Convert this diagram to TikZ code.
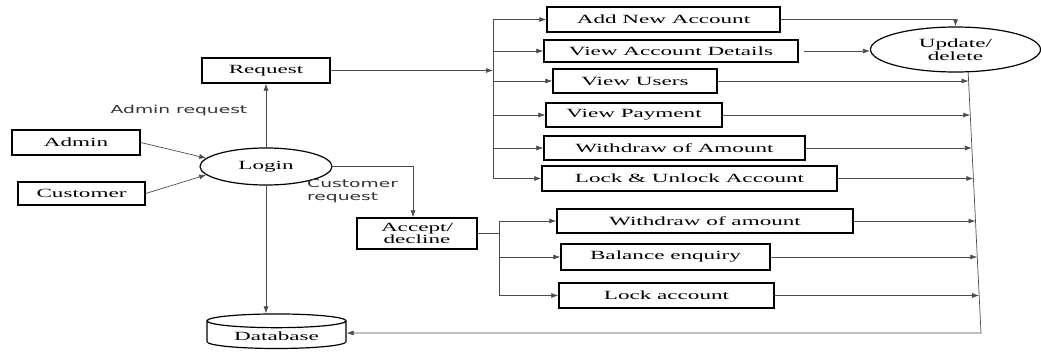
\documentclass[tikz,border=0pt]{standalone}
\usepackage{fontspec}
\newfontfamily\boxfont{Liberation Serif}[FakeStretch=1.85]
\newfontfamily\notefont{DejaVu Sans}[FakeStretch=1.7]
\usetikzlibrary{shapes.geometric,arrows.meta,calc}

\begin{document}
\begin{tikzpicture}[
  x=1pt, y=-1pt,
  box/.style={draw, line width=1.3pt, inner sep=1pt, align=center, font=\boxfont\fontsize{12.5}{12.5}\selectfont},
  bubble/.style={ellipse, draw, line width=1.2pt, inner sep=0pt, align=center, font=\boxfont\fontsize{12.5}{12.5}\selectfont},
  store/.style={cylinder, shape border rotate=90, draw, line width=1.2pt, aspect=0.15, font=\boxfont\fontsize{12.5}{12.5}\selectfont},
  note/.style={align=left, inner sep=0pt, font=\notefont\fontsize{11}{12.5}\selectfont, text=black!80},
  wire/.style={line width=0.7pt, draw=black!70},
  flow/.style={wire, -{Latex[length=7pt,width=5pt]}}
]
\useasboundingbox (0,0) rectangle (1041,356);
% users and login
\node[box, minimum width=128pt, minimum height=25pt] (admin) at (76,142.5) {Admin};
\node[box, minimum width=127pt, minimum height=23pt] (cust) at (81.5,193.5) {Customer};
\node[bubble, minimum width=132pt, minimum height=37pt] (login) at (266,166.5) {Login};
\node[box, minimum width=128pt, minimum height=25pt] (req) at (266,70.5) {Request};
\node[box, minimum width=120pt, minimum height=31pt] (accept) at (417,233.5) {Accept/\\decline};
\node[store, minimum width=139pt, minimum height=33pt] (db) at (276.5,336) {Database};
\node[note] (adminreq) at (179,110) {Admin request};
\node[note, anchor=west] (custreq) at (307,191) {Customer\\request};
% admin functions
\node[box, minimum width=233pt, minimum height=25pt] (add) at (663.5,19.5) {Add New Account};
\node[box, minimum width=254pt, minimum height=22pt] (details) at (671,51) {View Account Details};
\node[box, minimum width=164pt, minimum height=24pt] (users) at (635,81) {View Users};
\node[box, minimum width=176pt, minimum height=24pt] (payment) at (634,115) {View Payment};
\node[box, minimum width=261pt, minimum height=24pt] (withdraw) at (674.5,148) {Withdraw of Amount};
\node[box, minimum width=295pt, minimum height=25pt] (lock) at (689.5,178.5) {Lock \& Unlock Account};
% customer functions
\node[box, minimum width=296pt, minimum height=24pt] (wdamt) at (705,221) {Withdraw of amount};
\node[box, minimum width=209pt, minimum height=26pt] (balance) at (665.5,257) {Balance enquiry};
\node[box, minimum width=215pt, minimum height=25pt] (lockacc) at (666.5,295.5) {Lock account};
\node[bubble, minimum width=170pt, minimum height=45pt] (update) at (955.5,49.5) {Update/\\delete};
\coordinate (abus) at (493,100);
\coordinate (cbus) at (499,250);
\coordinate (ubot) at (981,333);
% connectors
\draw[flow] (admin.east) -- (login.172);
\draw[flow] (cust.east) -- (login.188);
\draw[flow] (login.north) -- (req.south);
\draw[flow] (login.east) -| ([xshift=-4pt]accept.north);
\draw[flow] (login.south) -- (login.south |- db.north);
\draw[flow] (req.east) -- (req.east -| abus);
\draw[wire] (add.west -| abus) -- (lock.west -| abus);
\foreach \b in {add,details,users,payment,withdraw,lock}
  \draw[flow] (\b.west -| abus) -- (\b.west);
\draw[wire] (accept.east) -- (accept.east -| cbus);
\draw[wire] (wdamt.west -| cbus) -- (lockacc.west -| cbus);
\foreach \b in {wdamt,balance,lockacc}
  \draw[flow] (\b.west -| cbus) -- (\b.west);
\draw[flow] (add.east) -| (update.north);
\draw[flow, shorten <=5pt] (details.east) -- (details.east -| update.west);
\draw[flow] (update.-61) -- (ubot) -- (ubot -| db.east);
\foreach \b/\t in {users/0.034,payment/0.165,withdraw/0.291,lock/0.408,wdamt/0.571,balance/0.709,lockacc/0.856}
{
  \coordinate (\b-end) at ($(update.-61)!\t!(ubot)$);
  \draw[flow] (\b.east) -- (\b.east -| \b-end);
}
\end{tikzpicture}
\end{document}
